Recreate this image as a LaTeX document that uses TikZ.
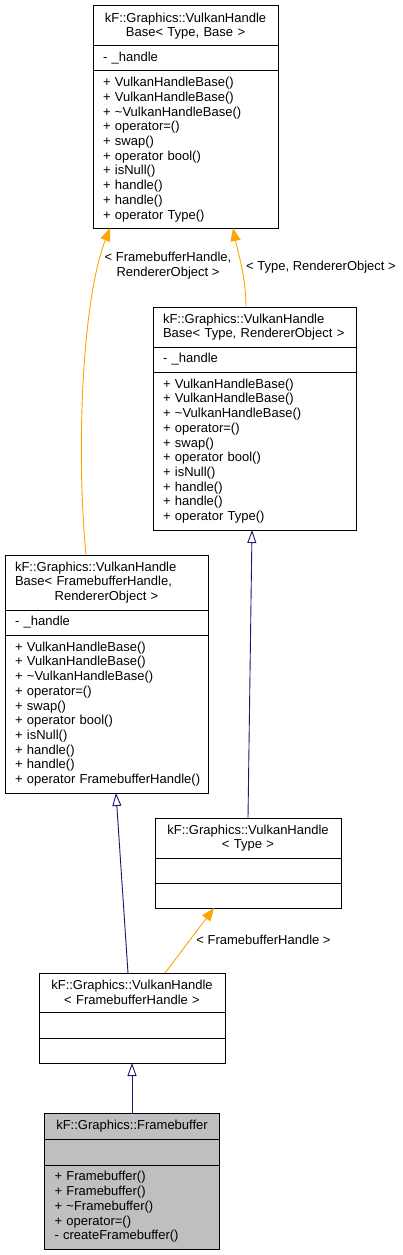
\documentclass[tikz,border=0pt]{standalone}
\usepackage{fontspec}
\setmainfont{Liberation Sans}
\usetikzlibrary{arrows.meta, positioning}
\definecolor{edgenavy}{RGB}{25,25,112}
\definecolor{edgeorange}{RGB}{255,165,0}
\definecolor{classgrey}{RGB}{191,191,191}
\newcommand{\handleops}[1]{+ VulkanHandleBase()\\+ VulkanHandleBase()\\
  + \textasciitilde VulkanHandleBase()\\+ operator=()\\+ swap()\\
  + operator bool()\\+ isNull()\\+ handle()\\+ handle()\\\mbox{+ operator #1()}}

\begin{document}
\begin{tikzpicture}[
    x=1pt, y=-1pt,
    node distance=0pt,
    cls/.style={rectangle, draw=black, line width=1pt, fill=white,
                inner xsep=10pt, inner ysep=1pt, outer sep=0pt, anchor=north,
                font=\fontsize{13}{14.7}\selectfont},
    clsrow/.style={cls, align=left},
    lbl/.style={align=center, inner sep=0pt, font=\fontsize{13}{14.7}\selectfont},
    inherit/.style={edgenavy, line width=0.9pt, -{Triangle[open, length=13pt, width=9pt]}},
    tmpl/.style={edgeorange, line width=0.9pt, -{Triangle[length=13pt, width=10pt]}}
]
\fill[white] (0,0) rectangle (403,1255);
\useasboundingbox (0,0) rectangle (403,1255);

% VulkanHandleBase< Type, Base >
\node[cls, text width=165pt, align=center, minimum height=40pt] (vhb) at (185.5,6)
  {kF::Graphics::VulkanHandle\\Base< Type, Base >};
\node[clsrow, text width=165pt, minimum height=25pt, below=of vhb] (vhb-a) {- \_handle};
\node[clsrow, text width=165pt, minimum height=157pt, below=of vhb-a] (vhb-m) {\handleops{Type}};

% VulkanHandleBase< Type, RendererObject >
\node[clsrow, text width=183pt, minimum height=40pt] (vhbt) at (254.5,307)
  {kF::Graphics::VulkanHandle\\Base< Type, RendererObject >};
\node[clsrow, text width=183pt, minimum height=25pt, below=of vhbt] (vhbt-a) {- \_handle};
\node[clsrow, text width=183pt, minimum height=158pt, below=of vhbt-a] (vhbt-m) {\handleops{Type}};

% VulkanHandleBase< FramebufferHandle, RendererObject >
\node[clsrow, text width=183pt, minimum height=55pt] (vhbf) at (106.5,555)
  {kF::Graphics::VulkanHandle\\Base< FramebufferHandle,\par\centerline{RendererObject >}};
\node[clsrow, text width=183pt, minimum height=25pt, below=of vhbf] (vhbf-a) {- \_handle};
\node[clsrow, text width=183pt, minimum height=158pt, below=of vhbf-a] (vhbf-m) {\handleops{FramebufferHandle}};

% VulkanHandle< Type >
\node[cls, text width=166pt, align=center, minimum height=40pt] (vht) at (248,818)
  {kF::Graphics::VulkanHandle\\< Type >};
\node[clsrow, text width=166pt, minimum height=25pt, below=of vht] (vht-a) {};
\node[clsrow, text width=166pt, minimum height=25pt, below=of vht-a] (vht-m) {};

% VulkanHandle< FramebufferHandle >
\node[cls, text width=166pt, align=center, minimum height=39pt] (vhf) at (132,973)
  {kF::Graphics::VulkanHandle\\< FramebufferHandle >};
\node[clsrow, text width=166pt, minimum height=26pt, below=of vhf] (vhf-a) {};
\node[clsrow, text width=166pt, minimum height=25pt, below=of vhf-a] (vhf-m) {};

% Framebuffer
\node[cls, fill=classgrey, text width=155pt, align=center, minimum height=26pt] (fb) at (132,1113)
  {kF::Graphics::Framebuffer};
\node[clsrow, fill=classgrey, text width=155pt, minimum height=26pt, below=of fb] (fb-a) {};
\node[clsrow, fill=classgrey, text width=155pt, minimum height=84pt, below=of fb-a] (fb-m)
  {+ Framebuffer()\\+ Framebuffer()\\+ \textasciitilde Framebuffer()\\+ operator=()\\- createFramebuffer()};

% template labels
\node[lbl] (l-fbro) at (168,265.5) {< FramebufferHandle,\\RendererObject >};
\node[lbl] (l-tro) at (321,267) {< Type, RendererObject >};
\node[lbl] (l-fbh) at (263.5,940) {< FramebufferHandle >};

% connectors
\draw[tmpl] ([xshift=-20.5pt]vhbf.north) .. controls +(-10,-105) and +(-28,72) .. ([xshift=-75.5pt]vhb-m.south);
\draw[tmpl] ([xshift=-8.5pt]vhbt.north) .. controls +(0,-30) and +(5,25) .. ([xshift=47.5pt]vhb-m.south);
\draw[inherit] (vht.north) -- ([xshift=-2.5pt]vhbt-m.south);
\draw[inherit] ([xshift=-4pt]vhf.north) -- ([xshift=9.5pt]vhbf-m.south);
\draw[tmpl] ([xshift=33pt]vhf.north) -- ([xshift=-34pt]vht-m.south);
\draw[inherit] (fb.north) -- (vhf-m.south);
\end{tikzpicture}
\end{document}
